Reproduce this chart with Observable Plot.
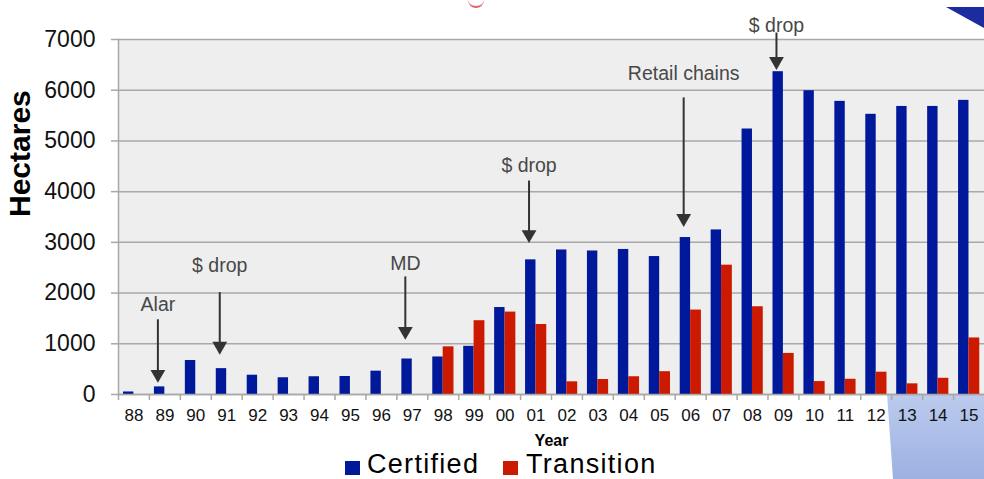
<!DOCTYPE html>
<html>
<head>
<meta charset="utf-8">
<script src="https://cdn.jsdelivr.net/npm/d3@7"></script>
<script src="https://cdn.jsdelivr.net/npm/@observablehq/plot@0.6"></script>
<style>
  html, body { margin: 0; padding: 0; background: #fff; }
  body { width: 984px; height: 479px; overflow: hidden; position: relative; font-family: "Liberation Sans", Arial, sans-serif; }
  .deco { position: absolute; z-index: 0; }
  #chart { position: relative; z-index: 1; }
  #legend { position: relative; z-index: 1; height: 27px; display: flex; align-items: flex-start; padding-left: 345px; font-size: 27px; line-height: 24px; color: #000; }
  #legend .sw { width: 15px; height: 14px; margin-top: 9px; flex: none; }
  #legend .lab { display: inline-block; letter-spacing: 1.3px; white-space: nowrap; }
</style>
</head>
<body>
<div class="deco" style="left:946px;top:7px;width:38px;height:21px;background:#1b2d9e;clip-path:polygon(0 0,100% 0,100% 100%);"></div>
<div class="deco" style="left:887px;top:394px;width:97px;height:85px;background:linear-gradient(#bccbee,#9cb1e2);clip-path:polygon(0 0,100% 0,100% 100%,6px 100%);"></div>
<div class="deco" style="left:468px;top:0px;width:16px;height:6px;border-bottom:2px solid #e0646a;border-radius:0 0 8px 8px;"></div>
<div id="chart"></div>
<div id="legend">
  <span class="sw" style="background:#00189a"></span>
  <span class="lab" style="margin-left:7px;width:136px">Certified</span>
  <span class="sw" style="background:#cc1a00"></span>
  <span class="lab" style="margin-left:8px">Transition</span>
</div>
<script>
const years = ["88","89","90","91","92","93","94","95","96","97","98","99","00","01","02","03","04","05","06","07","08","09","10","11","12","13","14","15"];
const certified = [50,150,670,510,380,330,350,355,460,700,740,950,1715,2655,2850,2830,2860,2720,3095,3245,5235,6365,5990,5780,5525,5680,5680,5800];
const transition = [0,0,0,0,0,0,0,0,0,0,940,1455,1625,1380,250,295,350,450,1665,2550,1730,810,255,300,440,210,320,1115];
const yTicks = [0,1000,2000,3000,4000,5000,6000,7000];

const annYear = ["89","91","97","01","06","09"];
const annText = ["Alar","$ drop","MD","$ drop","Retail chains","$ drop"];
const annTextY = [1760,2530,2570,4520,6330,7275];
const annArrowFrom = [1365,1900,2210,4100,5740,7020];
const annArrowTo = [320,875,1170,3075,3395,6490];

const rows = years.map((year, i) => ({year, certified: certified[i], transition: transition[i]}));
const ann = annYear.map((year, i) => ({year, text: annText[i], ty: annTextY[i], from: annArrowFrom[i], to: annArrowTo[i]}));

const W = 984, H = 452, ML = 118, MR = 0, MT = 39, MB = 58;
const bw = (W - ML - MR) / years.length;
const grid = "#a8a8a8";
const annColor = "#484848";
const arrowColor = "#333333";

const chart = Plot.plot({
  width: W, height: H,
  marginLeft: ML, marginRight: MR, marginTop: MT, marginBottom: MB,
  style: {background: "transparent", fontFamily: "'Liberation Sans', Arial, sans-serif", color: "#000"},
  x: {type: "band", domain: years, padding: 0, round: false, label: null},
  y: {domain: [0, 7000], label: null},
  marks: [
    Plot.frame({fill: "#eeeeee", stroke: null}),
    Plot.gridY(yTicks, {stroke: grid, strokeOpacity: 1, strokeWidth: 1.5}),
    Plot.frame({anchor: "left", stroke: grid, strokeWidth: 1.5}),
    Plot.axisY(yTicks, {tickSize: 7, tickPadding: 16, stroke: grid, strokeWidth: 1.5, fontSize: 23, tickFormat: d => String(d), fill: "#111"}),
    Plot.axisX({tickSize: 6, stroke: grid, strokeWidth: 1.5, tickFormat: () => "", dx: -bw / 2}),
    Plot.axisX({tickSize: 0, tickPadding: 14, fontSize: 17, fill: "#111"}),
    Plot.barY(rows, {x: "year", y: "certified", fill: "#00189a", insetLeft: 5, insetRight: bw - 15.4}),
    Plot.barY(rows, {x: "year", y: "transition", fill: "#cc1a00", insetLeft: 15.4, insetRight: bw - 26.2}),
    Plot.ruleY([0], {stroke: grid, strokeWidth: 1.5}),
    Plot.link(ann, {x1: "year", x2: "year", y1: "from", y2: "to", stroke: arrowColor, strokeWidth: 2, dx: -7, dy: -6}),
    Plot.dot(ann, {x: "year", y: "to", symbol: "triangle", r: 5.5, fill: arrowColor, stroke: null, rotate: 180, dx: -7, dy: -4}),
    Plot.text(ann, {x: "year", y: "ty", text: "text", fill: annColor, fontSize: 19.5, dx: -7}),
    Plot.text(["Year"], {frameAnchor: "bottom", dy: 51, fontSize: 16, fontWeight: "bold", fill: "#000"}),
    Plot.text(["Hectares"], {frameAnchor: "left", dx: -98, rotate: -90, fontSize: 30, fontWeight: "bold", fill: "#000"})
  ]
});
document.getElementById("chart").appendChild(chart);
</script>
</body>
</html>
